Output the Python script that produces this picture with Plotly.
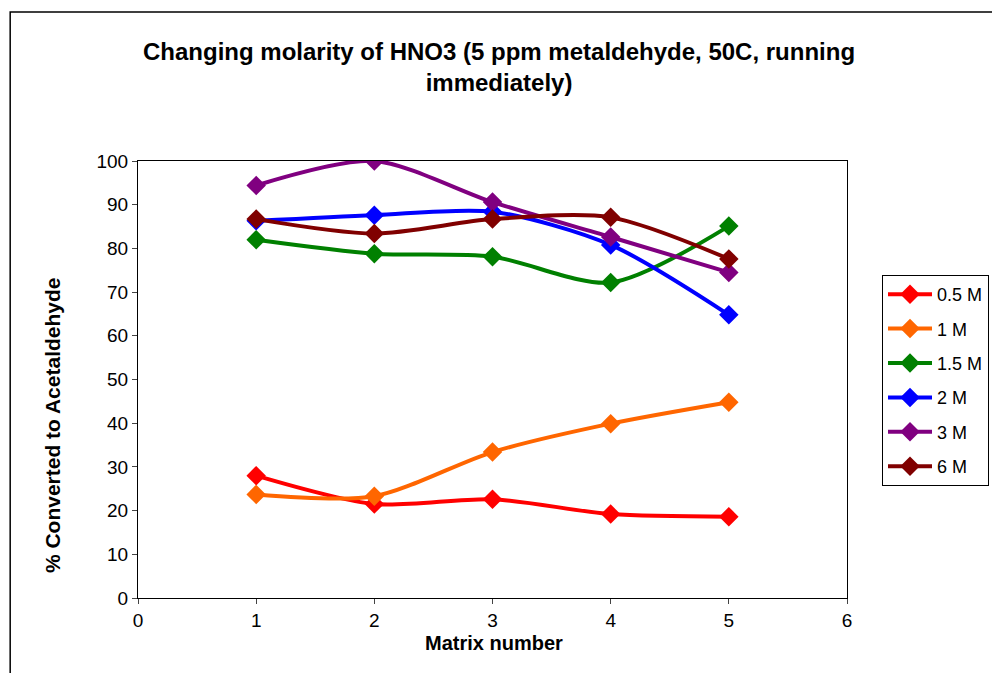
import plotly.graph_objects as go

matrix = [1, 2, 3, 4, 5]
series_names = ["0.5 M", "1 M", "1.5 M", "2 M", "3 M", "6 M"]
m05 = [28.0, 21.5, 22.6, 19.2, 18.6]
m1 = [23.7, 23.3, 33.4, 39.9, 44.8]
m15 = [82.0, 78.8, 78.1, 72.2, 85.1]
m2 = [86.3, 87.6, 88.4, 80.8, 64.8]
m3 = [94.4, 100.0, 90.6, 82.6, 74.5]
m6 = [86.7, 83.4, 86.7, 87.1, 77.6]
colors = ["#FF0000", "#FF6600", "#008000", "#0000FF", "#800080", "#800000"]
x_ticks = [0, 1, 2, 3, 4, 5, 6]
y_ticks = [0, 10, 20, 30, 40, 50, 60, 70, 80, 90, 100]

# page offset of the figure inside the browser body (8px default margin)
OFF = 8
L, T, PW, PH = 138, 161, 710, 437

fig = go.Figure()
for i, (name, vals) in enumerate(zip(series_names, [m05, m1, m15, m2, m3, m6])):
    fig.add_trace(go.Scatter(
        x=matrix, y=vals, name=name, mode="lines+markers",
        line=dict(color=colors[i], width=4, shape="spline", smoothing=0.8),
        marker=dict(symbol="diamond", size=15, color=colors[i]),
        legendgroup=name,
    ))


def px(xp):
    return (xp - L) / PW


def py(yp):
    return (T + PH - yp) / PH


font = "Arial, Liberation Sans, sans-serif"
fig.update_layout(
    width=1000 - OFF, height=673 - OFF,
    margin=dict(l=L - OFF, r=1000 - L - PW, t=T - OFF, b=673 - T - PH, pad=0),
    paper_bgcolor="white", plot_bgcolor="white",
    font=dict(family=font, color="black", size=19),
    showlegend=True,
    legend=dict(
        x=px(882), xanchor="left", y=py(275), yanchor="top",
        bordercolor="black", borderwidth=1, bgcolor="white",
        font=dict(size=18, family=font),
        traceorder="grouped", tracegroupgap=8,
        itemwidth=44,
    ),
    xaxis=dict(range=[0, 6], tickvals=x_ticks, ticks="outside", ticklen=5,
               showline=True, linecolor="black", linewidth=1, mirror=True,
               showgrid=False, zeroline=False, tickfont=dict(size=19)),
    yaxis=dict(range=[0, 100], tickvals=y_ticks, ticks="outside", ticklen=5,
               showline=True, linecolor="black", linewidth=1, mirror=True,
               showgrid=False, zeroline=False, tickfont=dict(size=19)),
    annotations=[
        dict(text="<b>Changing molarity of HNO3 (5 ppm metaldehyde, 50C, running<br>immediately)</b>",
             xref="paper", yref="paper", x=px(500), y=py(67),
             xanchor="center", yanchor="middle", showarrow=False,
             font=dict(size=24, family=font)),
        dict(text="<b>Matrix number</b>", xref="paper", yref="paper",
             x=px(495), y=py(643), xanchor="center", yanchor="middle",
             showarrow=False, font=dict(size=20, family=font)),
        dict(text="<b>% Converted to Acetaldehyde</b>", xref="paper", yref="paper",
             x=px(52), y=py(425), xanchor="center", yanchor="middle",
             textangle=-90, showarrow=False, font=dict(size=21, family=font)),
    ],
    shapes=[
        dict(type="rect", xref="paper", yref="paper",
             x0=px(10), x1=px(1020), y0=py(700), y1=py(12),
             line=dict(color="black", width=1.5), fillcolor="rgba(0,0,0,0)", layer="below"),
    ],
)

fig.write_html("out.html")
